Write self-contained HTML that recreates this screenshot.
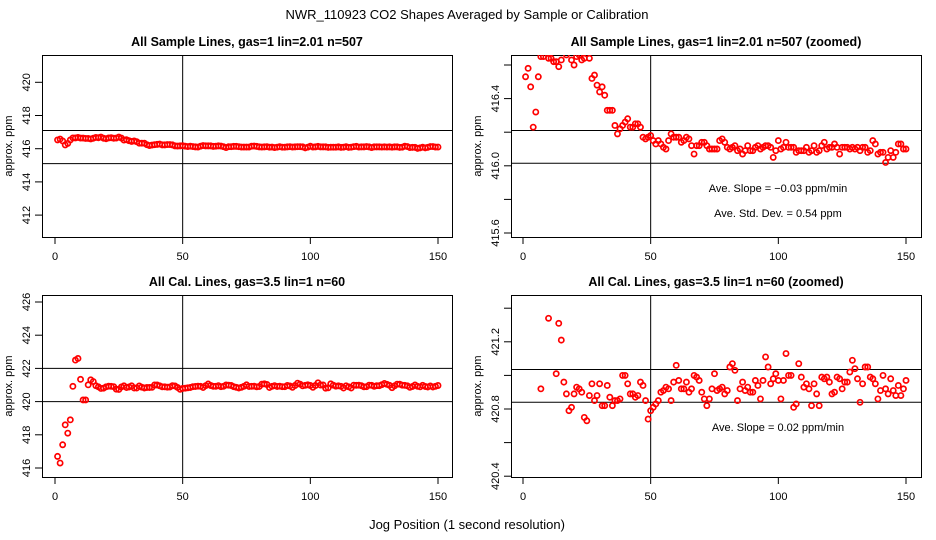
<!DOCTYPE html>
<html><head><meta charset="utf-8"><style>
html,body{margin:0;padding:0;background:#fff;width:936px;height:540px;overflow:hidden;}
svg{display:block;font-family:"Liberation Sans",sans-serif;}
</style></head><body>
<svg id="chart" width="936" height="540" viewBox="0 0 936 540">
<text x="467" y="19" text-anchor="middle" font-size="13">NWR_110923  CO2 Shapes Averaged by Sample or Calibration</text>
<text x="467" y="529" text-anchor="middle" font-size="13">Jog Position (1 second resolution)</text>
</svg>
<script>
const sampleValues = [416.53,416.58,416.47,416.23,416.32,416.53,416.65,416.65,416.68,416.64,416.64,416.62,416.62,416.59,416.63,416.68,416.66,416.70,416.63,416.60,416.65,416.66,416.63,416.64,416.70,416.64,416.52,416.54,416.48,416.44,416.47,416.42,416.33,416.33,416.33,416.24,416.19,416.22,416.24,416.26,416.28,416.23,416.23,416.25,416.25,416.23,416.17,416.16,416.17,416.18,416.15,416.13,416.15,416.13,416.11,416.10,416.15,416.19,416.17,416.17,416.17,416.14,416.15,416.17,416.16,416.12,416.07,416.12,416.12,416.14,416.14,416.12,416.10,416.10,416.10,416.10,416.15,416.16,416.14,416.11,416.10,416.11,416.12,416.09,416.10,416.07,416.09,416.12,416.09,416.09,416.11,416.12,416.10,416.11,416.12,416.12,416.11,416.05,416.09,416.15,416.10,416.11,416.14,416.11,416.11,416.11,416.08,416.09,416.09,416.09,416.11,416.08,416.09,416.12,416.08,416.09,416.12,416.14,416.10,416.11,416.11,416.13,416.11,416.07,416.11,416.11,416.11,416.10,416.11,416.10,416.11,416.09,416.11,416.11,416.08,416.09,416.15,416.13,416.07,416.08,416.08,416.02,416.05,416.09,416.05,416.08,416.13,416.13,416.10,416.10];
const calValues = [416.7,416.3,417.4,418.6,418.1,418.9,420.92,422.5,422.6,421.34,420.1,420.1,421.01,421.31,421.21,420.96,420.89,420.79,420.81,420.89,420.93,420.92,420.90,420.75,420.73,420.88,420.95,420.85,420.88,420.95,420.82,420.82,420.94,420.87,420.82,420.85,420.85,420.86,421.00,421.00,420.95,420.89,420.89,420.87,420.88,420.96,420.94,420.85,420.74,420.79,420.81,420.83,420.85,420.90,420.91,420.93,420.92,420.85,420.96,421.06,420.97,420.92,420.92,420.96,420.90,420.92,421.00,420.99,420.97,420.90,420.86,420.82,420.86,420.92,421.01,420.91,420.92,420.93,420.89,420.91,421.05,421.07,421.03,420.85,420.92,420.96,420.91,420.93,420.90,420.90,420.97,420.94,420.86,420.97,421.11,421.05,420.95,420.98,421.01,420.97,420.86,420.97,421.13,421.00,421.00,420.81,420.83,421.07,420.99,420.93,420.95,420.92,420.82,420.95,420.89,420.82,420.99,420.98,420.99,420.96,420.89,420.90,420.99,420.98,420.92,420.96,420.96,421.02,421.09,421.04,420.98,420.84,420.95,421.05,421.05,420.99,420.98,420.95,420.86,420.91,421.00,420.92,420.89,420.98,420.91,420.88,420.94,420.88,420.92,420.97];
const xTicks = [0,50,100,150];
const p1YTicks = [412,414,416,418,420];
const p2YTicks = [415.6,415.8,416.0,416.2,416.4,416.6];
const p2YLabels = ["415.6","","416.0","","416.4",""];
const p3YTicks = [416,418,420,422,424,426];
const p4YTicks = [420.4,420.6,420.8,421.0,421.2,421.4];
const p4YLabels = ["420.4","","420.8","","421.2",""];
const p1HLines = [417.1,415.1];
const p2HLines = [416.21,416.015];
const p3HLines = [422,420];
const p4HLines = [421.035,420.84];

const NS="http://www.w3.org/2000/svg";
const svg=document.getElementById('chart');
function mk(tag,attrs,parent){const e=document.createElementNS(NS,tag);for(const k in attrs)e.setAttribute(k,attrs[k]);(parent||svg).appendChild(e);return e;}

function panel(o){
  const g=mk('g',{});
  
  
  const L=o.left,R=o.left+410,T=o.top,B=o.top+182;
  const xs=v=>o.x0+(v/150)*383;
  const ys=v=>o.yRef-(v-o.vRef)*o.k;
  const cid='clip-'+o.name;
  const cp=mk('clipPath',{id:cid},g);mk('rect',{x:L,y:T,width:410,height:182},cp);
  const t=mk('text',{x:(L+R)/2,y:T-9,'text-anchor':'middle','font-size':12.5,'font-weight':'bold'},g);
  t.textContent=o.title;
  
  
  const box=mk('rect',{x:L+0.5,y:T+0.5,width:410,height:182,fill:'none',stroke:'#000','stroke-width':1},g);
  
  
  xTicks.forEach(v=>{
    const x=xs(v);
    mk('line',{x1:x,x2:x,y1:B,y2:B+7,stroke:'#000'},g);
    const tx=mk('text',{x:x,y:B+23,'text-anchor':'middle','font-size':11},g);
    tx.textContent=v;
    
    
  });
  o.yTicks.forEach((v,i)=>{
    const y=ys(v);
    mk('line',{x1:L-7,x2:L,y1:y,y2:y,stroke:'#000'},g);
    const lab=o.yLabels?o.yLabels[i]:String(v);
    if(lab){
      const ty=mk('text',{x:0,y:0,'text-anchor':'middle','font-size':11,transform:`translate(${L-12},${y}) rotate(-90)`},g);
      ty.textContent=lab;
      
      
    }
  });
  const yt=mk('text',{x:0,y:0,'text-anchor':'middle','font-size':11,transform:`translate(${L-30},${(T+B)/2}) rotate(-90)`},g);
  yt.textContent='approx. ppm';
  
  
  const vl=mk('line',{x1:xs(50),x2:xs(50),y1:T,y2:B,stroke:'#000'},g);
  
  
  o.hLines.forEach(v=>{
    const hl=mk('line',{x1:L,x2:R,y1:ys(v),y2:ys(v),stroke:'#000'},g);
    
    
  });
  const pg=mk('g',{'clip-path':`url(#${cid})`},g);
  o.values.forEach((v,i)=>{
    const cy=ys(v);
    if(cy<T-3||cy>B+3) return;
    const c=mk('circle',{cx:xs(i+1),cy:cy,r:2.6,fill:'none',stroke:'#ff0000','stroke-width':1.7},pg);
    
    
  });
  (o.notes||[]).forEach(n=>{
    const nt=mk('text',{x:778,y:n[1],'text-anchor':'middle','font-size':11},g);
    nt.textContent=n[0];
    
    
  });
}
panel({name:'sample-lines-panel',title:'All Sample Lines, gas=1 lin=2.01 n=507',left:42,top:55,x0:55,values:sampleValues,yTicks:p1YTicks,hLines:p1HLines,yRef:148.7,vRef:416,k:16.6});
panel({name:'sample-lines-zoomed-panel',title:'All Sample Lines, gas=1 lin=2.01 n=507 (zoomed)',left:511,top:55,x0:523,values:sampleValues,yTicks:p2YTicks,yLabels:p2YLabels,hLines:p2HLines,yRef:165.8,vRef:416,k:168,
  notes:[['Ave. Slope =  \u22120.03  ppm/min',192],['Ave. Std. Dev. =  0.54  ppm',217]]});
panel({name:'cal-lines-panel',title:'All Cal. Lines, gas=3.5 lin=1 n=60',left:42,top:295,x0:55,values:calValues,yTicks:p3YTicks,hLines:p3HLines,yRef:468,vRef:416,k:16.6});
panel({name:'cal-lines-zoomed-panel',title:'All Cal. Lines, gas=3.5 lin=1 n=60 (zoomed)',left:511,top:295,x0:523,values:calValues,yTicks:p4YTicks,yLabels:p4YLabels,hLines:p4HLines,yRef:409,vRef:420.8,k:168,
  notes:[['Ave. Slope =  0.02  ppm/min',431]]});
</script>
</body></html>
